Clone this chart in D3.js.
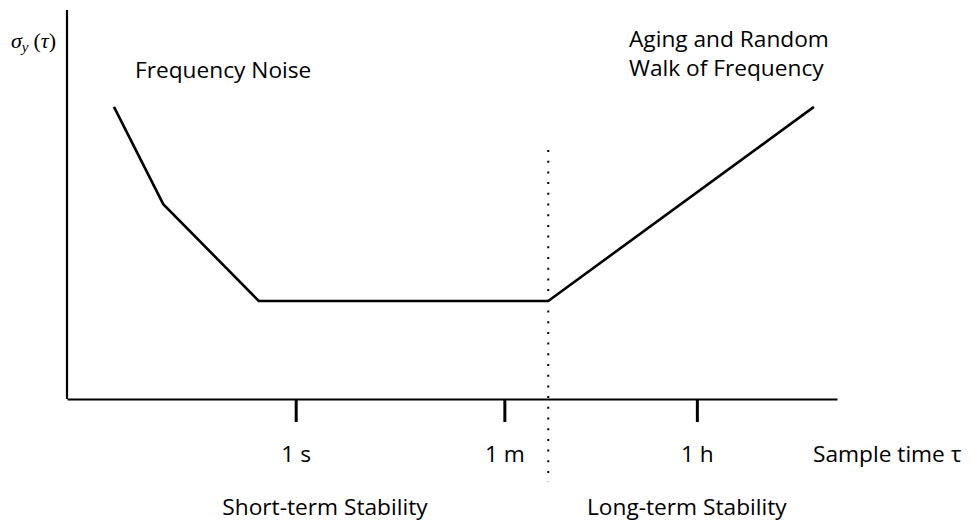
<!DOCTYPE html>
<html>
<head>
<meta charset="utf-8">
<script src="https://cdn.jsdelivr.net/npm/d3@7"></script>
<style>
  body { margin: 0; background: #fff; }
  svg { display: block; }
  text { font-family: "Open Sans", sans-serif; fill: #000; }
</style>
</head>
<body>
<svg id="chart" width="973" height="525"></svg>
<script>
// Sample time axis (arbitrary logarithmic units) and its labelled ticks
const tickValues = [29.7, 56.8, 81.8];
const tickLabels = ["1 s", "1 m", "1 h"];

// Piecewise Allan deviation curve sigma_y(tau)
const tauPoints = [6.1, 12.5, 24.9, 62.5, 97.0];
const sigmaPoints = [75.1, 50.1, 25.2, 25.2, 75.1];

// Boundary between short-term and long-term regimes
const boundaryTau = 62.5;
const regionLabels = ["Short-term Stability", "Long-term Stability"];
const regionCenters = [33.5, 80.5];

const svg = d3.select("#chart");
const margin = { left: 67, right: 136, top: 10, bottom: 126 };
const W = 973, H = 525;

const x = d3.scaleLinear().domain([0, 100]).range([margin.left, W - margin.right]);
const y = d3.scaleLinear().domain([0, 100]).range([H - margin.bottom, margin.top]);

const fs = 22.7;

// Y axis line
svg.append("line")
  .attr("x1", x(0)).attr("x2", x(0))
  .attr("y1", y(100)).attr("y2", y(0))
  .attr("stroke", "#000").attr("stroke-width", 2.2);

// X axis with ticks
const xAxis = d3.axisBottom(x)
  .tickValues(tickValues)
  .tickFormat((d, i) => tickLabels[i])
  .tickSizeInner(23)
  .tickSizeOuter(0)
  .tickPadding(24);

const gx = svg.append("g")
  .attr("transform", `translate(0,${y(0)})`)
  .call(xAxis);
gx.select(".domain").attr("stroke", "#000").attr("stroke-width", 2.2);
gx.selectAll(".tick line").attr("stroke", "#000").attr("stroke-width", 3);
gx.selectAll(".tick text")
  .attr("font-family", "'Open Sans', sans-serif")
  .attr("font-size", fs)
  .attr("fill", "#000");

// Regime divider
svg.append("line")
  .attr("x1", x(boundaryTau)).attr("x2", x(boundaryTau))
  .attr("y1", 150).attr("y2", 482)
  .attr("stroke", "#000").attr("stroke-width", 2)
  .attr("stroke-dasharray", "2,8.7");

// The curve
const line = d3.line()
  .x((d, i) => x(tauPoints[i]))
  .y(d => y(d));
svg.append("path")
  .datum(sigmaPoints)
  .attr("d", line)
  .attr("fill", "none")
  .attr("stroke", "#000")
  .attr("stroke-width", 2.6)
  .attr("stroke-linejoin", "miter");

// Region labels under the axis
svg.selectAll(".region")
  .data(regionLabels)
  .join("text")
  .attr("class", "region")
  .attr("x", (d, i) => x(regionCenters[i]))
  .attr("y", 515)
  .attr("text-anchor", "middle")
  .attr("font-size", fs)
  .text(d => d);

// Axis title
svg.append("text")
  .attr("x", 813).attr("y", 462)
  .attr("font-size", fs)
  .text("Sample time τ");

// Y-axis label sigma_y(tau)
const yl = svg.append("text")
  .attr("x", 56).attr("y", 48)
  .attr("text-anchor", "end")
  .attr("font-size", 22)
  .style("font-family", "'Liberation Serif', serif");
yl.append("tspan").attr("font-style", "italic").text("σ");
yl.append("tspan").attr("font-style", "italic").attr("font-size", 15).attr("dy", 4).text("y");
yl.append("tspan").attr("dy", -4).attr("dx", 5).text("(");
yl.append("tspan").attr("font-style", "italic").text("τ");
yl.append("tspan").text(")");

// Regime annotations
svg.append("text")
  .attr("x", 135).attr("y", 78)
  .attr("font-size", fs)
  .text("Frequency Noise");

svg.append("text")
  .attr("x", 629).attr("y", 47)
  .attr("font-size", fs)
  .text("Aging and Random");
svg.append("text")
  .attr("x", 629).attr("y", 76)
  .attr("font-size", fs)
  .text("Walk of Frequency");
</script>
</body>
</html>
